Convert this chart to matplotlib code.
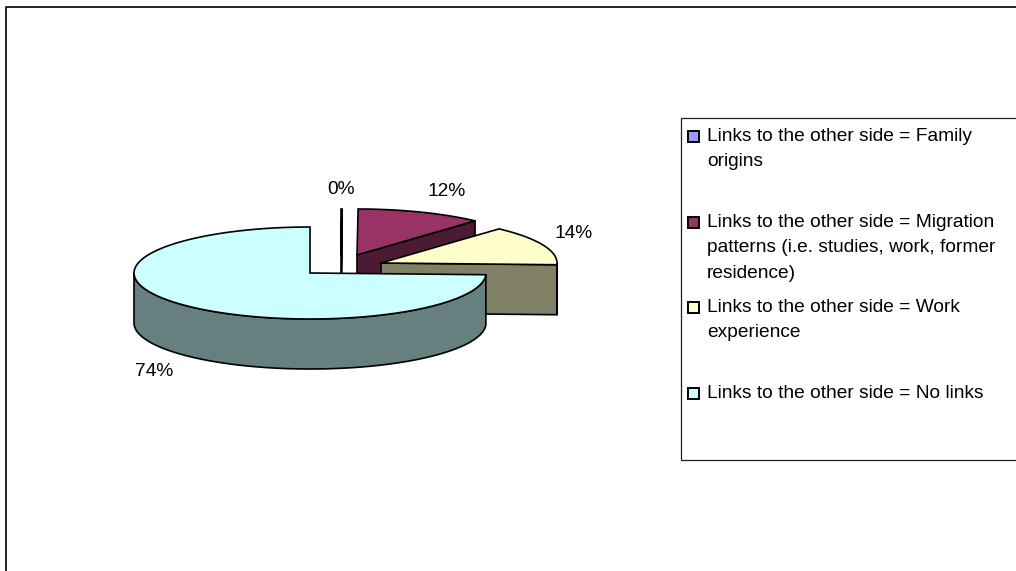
import matplotlib
matplotlib.use("Agg")
import matplotlib.pyplot as plt
import numpy as np

plt.rcParams["font.family"] = ["Liberation Sans", "DejaVu Sans"]

labels = [
    "Links to the other side = Family\norigins",
    "Links to the other side = Migration\npatterns (i.e. studies, work, former\nresidence)",
    "Links to the other side = Work\nexperience",
    "Links to the other side = No links",
]
values = [0.1, 11.6, 13.9, 74.4]
pct_labels = ["0%", "12%", "14%", "74%"]
top_colors = ["#9999ff", "#993366", "#ffffcc", "#ccffff"]
side_colors = ["#4c4c80", "#4d1a33", "#808066", "#668080"]

RX, RY, DEPTH = 176, 46, 50
# pie centres in pixels, exploded slices sit away from the main one
centers = [(341, 255), (357, 255), (381, 263), (310, 273)]
label_pos = [(341, 189), (447, 192), (574, 233), (154, 371)]
legend_y = [136, 222, 307, 393]


def arc(cx, cy, a0, a1):
    # angles clockwise from 12 o'clock, like the spreadsheet draws them
    t = np.radians(np.linspace(a0, a1, 200))
    return cx + RX * np.sin(t), cy - RY * np.cos(t)


fig = plt.figure(figsize=(10.16, 5.71), dpi=100)
ax = fig.add_axes([0, 0, 1, 1])
ax.set_xlim(0, 1016)
ax.set_ylim(571, 0)
ax.axis("off")

# outer frame, runs off the right and bottom edges
ax.plot([6, 6, 1016], [571, 7, 7], color="black", lw=1.2)

edges = np.cumsum([0] + values) / sum(values) * 360
for i in range(4):
    cx, cy = centers[i]
    a0, a1 = edges[i], edges[i + 1]
    x, y = arc(cx, cy, a0, a1)
    z = i * 2 + 2

    # only the cut face that looks towards the viewer
    if i < 3:
        ex, ey = arc(cx, cy, a1, a1)
        ax.fill([cx, ex[0], ex[0], cx], [cy, ey[0], ey[0] + DEPTH, cy + DEPTH],
                facecolor=side_colors[i], edgecolor="black", lw=1.2, zorder=z)

    # rim only where it faces front
    r0, r1 = max(a0, 90), min(a1, 270)
    if r1 > r0:
        rx, ry = arc(cx, cy, r0, r1)
        ax.fill(np.r_[rx, rx[::-1]], np.r_[ry, ry[::-1] + DEPTH],
                facecolor=side_colors[i], edgecolor="black", lw=1.2, zorder=z)

    ax.fill(np.r_[cx, x], np.r_[cy, y], facecolor=top_colors[i], edgecolor="black",
            lw=1.2, joinstyle="miter", zorder=z + 1)

    ax.text(label_pos[i][0], label_pos[i][1], pct_labels[i], fontsize=13.8,
            ha="center", va="center", color="black", zorder=20)

# legend drawn by hand to keep the odd uneven row spacing
ax.plot([1016, 681, 681, 1016], [118, 118, 460, 460], color="#222222", lw=0.9, zorder=1)
for lab, c, y0 in zip(labels, top_colors, legend_y):
    ax.add_patch(plt.Rectangle((688, y0 - 5.5), 11, 11, facecolor=c, edgecolor="black", lw=1.4))
    ax.text(707, y0 - 8, lab, fontsize=13.8, va="top", ha="left", linespacing=1.64, color="black")

fig.savefig("out.png", dpi=100)
